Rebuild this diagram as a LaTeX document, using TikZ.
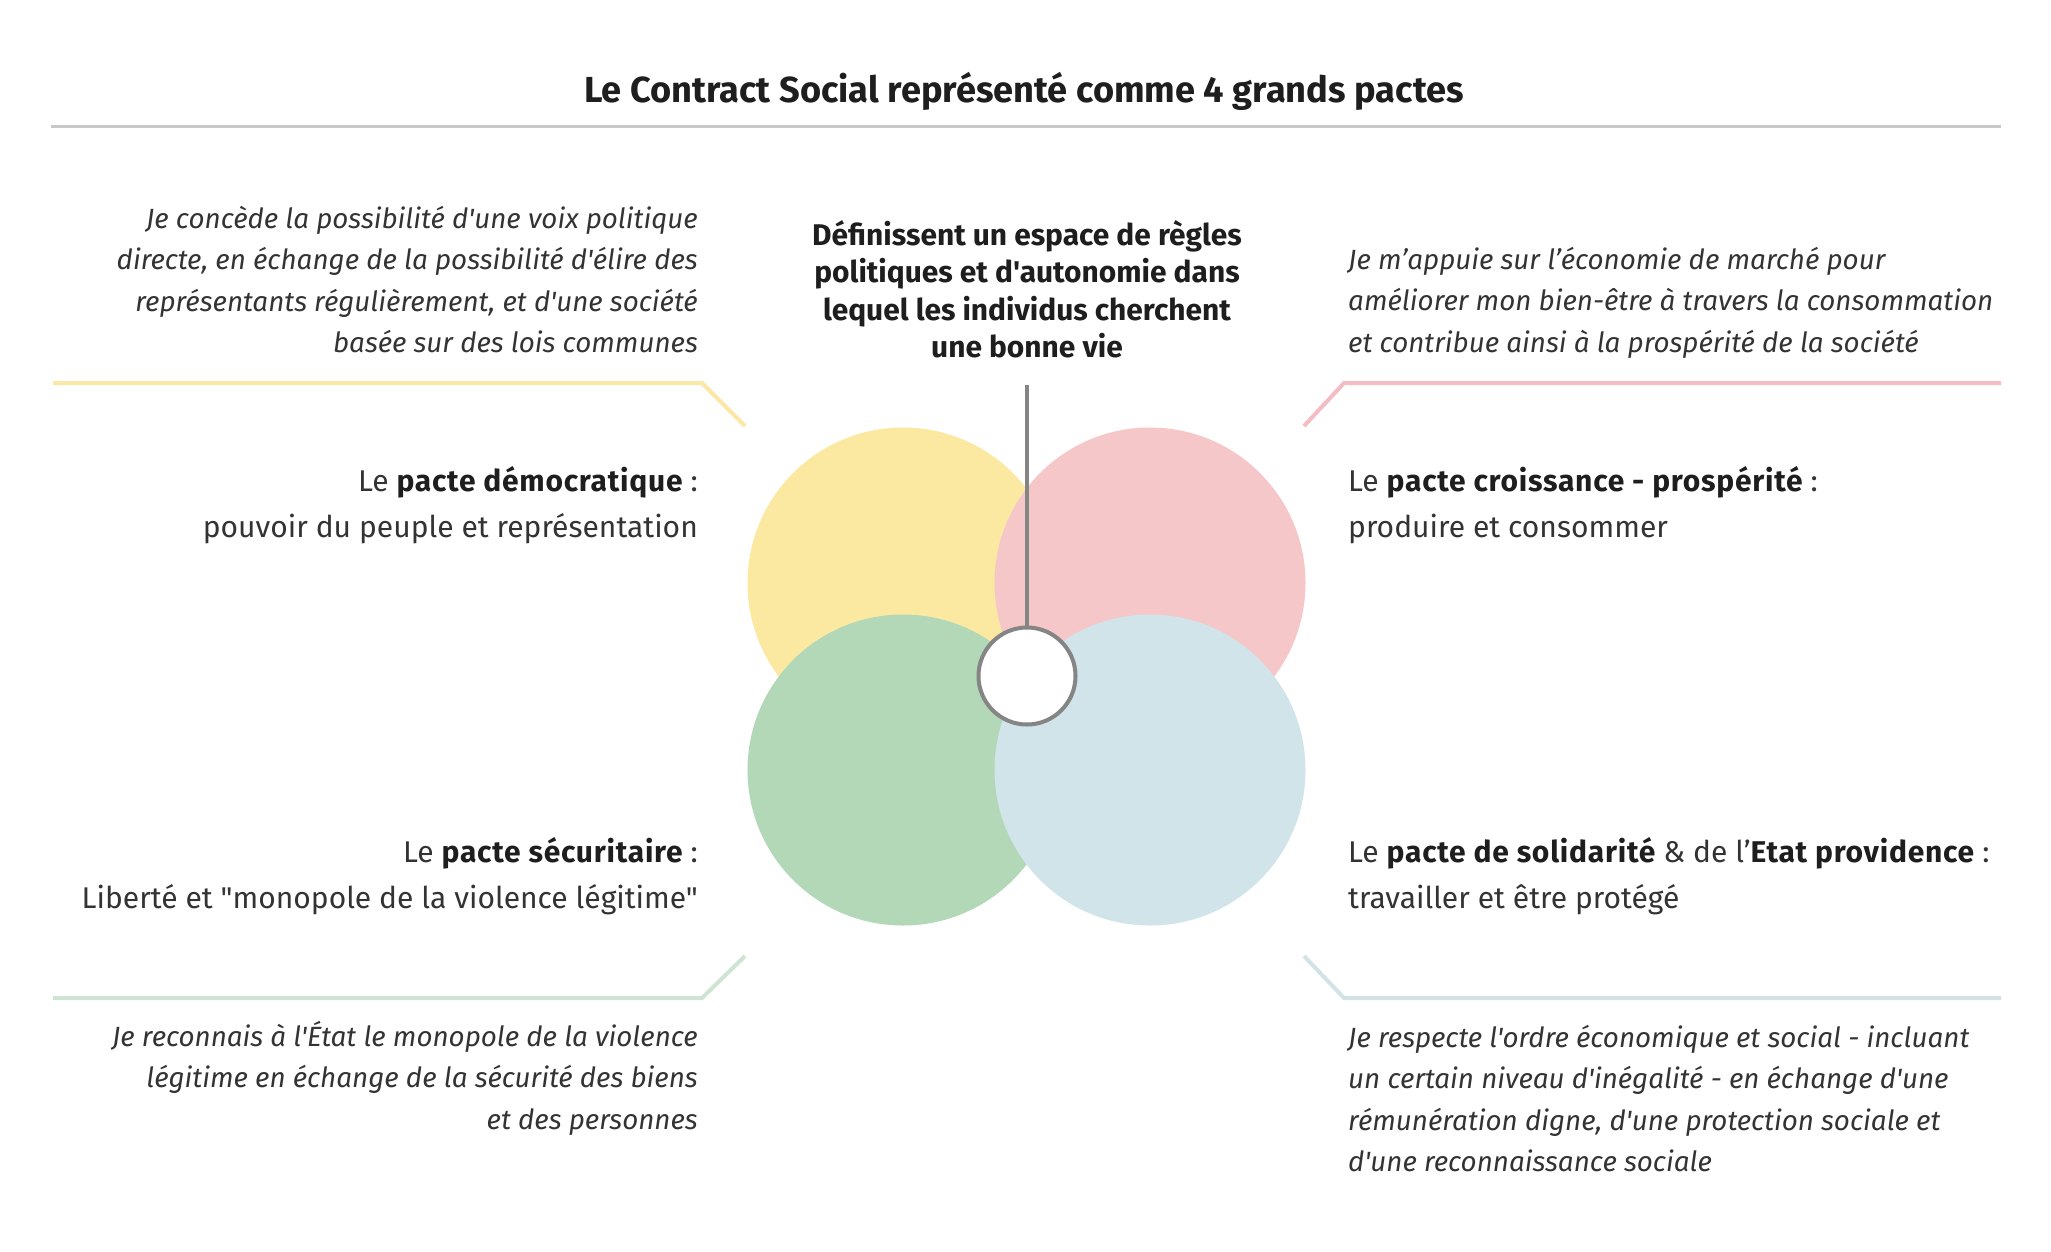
\documentclass[tikz,border=0pt]{standalone}
\usepackage{fontspec}
\newfontfamily\fira{Fira Sans}
\definecolor{cyellow}{HTML}{FBE9A2}
\definecolor{cpink}{HTML}{F6C7C8}
\definecolor{cgreen}{HTML}{B2D8B8}
\definecolor{cblue}{HTML}{D0E4EA}
\definecolor{lyellow}{HTML}{FCE8A6}
\definecolor{lpink}{HTML}{F5BCC3}
\definecolor{lgreen}{HTML}{D0E4D3}
\definecolor{lblue}{HTML}{D2E2E6}
\definecolor{rulegray}{HTML}{C8C8C8}
\definecolor{stemgray}{HTML}{858585}
\definecolor{txtdark}{HTML}{1E1E1E}
\definecolor{txtmid}{HTML}{333333}
\tikzset{
  italictext/.style={font=\fira\itshape\fontsize{27.8}{41.5}\selectfont, text=txtmid, inner sep=0pt},
  pactetext/.style={font=\fira\fontsize{30}{46}\selectfont, text=txtmid, inner sep=0pt},
  centretext/.style={font=\fira\bfseries\fontsize{29.9}{37.5}\selectfont, text=txtdark, inner sep=0pt, align=center},
  titletext/.style={font=\fira\bfseries\fontsize{36.2}{40}\selectfont, text=txtdark, inner sep=0pt},
  blob/.style={circle, inner sep=0pt, minimum size=311pt},
  sepline/.style={line width=4pt, line join=miter},
}
\newcommand{\bd}[1]{{\bfseries\addfontfeature{LetterSpace=2.5}\color{txtdark}#1}}
\begin{document}
\begin{tikzpicture}[x=1pt,y=-1pt]
\useasboundingbox (0,0) rectangle (2051,1251);
\fill[white] (0,0) rectangle (2051,1251);

% title
\node[titletext, anchor=base] (title) at (1024,102) {Le Contract Social représenté comme 4 grands pactes};
\coordinate (ruleL) at (51,126);
\coordinate (ruleR) at (2001,126);
\draw[rulegray, line width=3pt] (ruleL) -- (ruleR);

% circles
\node[blob, fill=cyellow] (dem) at (903,583) {};
\node[blob, fill=cpink] (cro) at (1150,583) {};
\node[blob, fill=cgreen] (sec) at (903,770) {};
\node[blob, fill=cblue] (sol) at (1150,770) {};

% centre text, stem and core
\node[centretext, anchor=north] (centre) at (1027,219) {\strut Définissent un espace de règles\\\strut politiques et d'autonomie dans\\\strut lequel les individus cherchent\\\strut une bonne vie};
\coordinate (stem) at (1027,385);
\node[circle, draw=stemgray, line width=4pt, fill=white, inner sep=0pt, minimum size=97pt] (core) at (1027,676) {};
\draw[stemgray, line width=4pt] (stem) -- (core.north);

% top-left
\node[italictext, align=right, anchor=north east] (ditl) at (698,199) {\strut Je concède la possibilité d'une voix politique\\\strut directe, en échange de la possibilité d'élire des\\\strut représentants régulièrement, et d'une société\\\strut basée sur des lois communes};
\coordinate (yA) at (53,383);
\coordinate (yB) at (702,383);
\coordinate (yC) at (745,426);
\draw[sepline, lyellow] (yA) -- (yB) -- (yC);
\node[pactetext, align=right, anchor=north east] (ptl) at (698,459) {\strut Le \bd{pacte démocratique} :\\\strut pouvoir du peuple et représentation};

% top-right
\node[italictext, align=left, anchor=north west] (ditr) at (1348,240) {\strut Je m’appuie sur l’économie de marché pour\\\strut améliorer mon bien-être à travers la consommation\\\strut et contribue ainsi à la prospérité de la société};
\coordinate (pA) at (1304,426);
\coordinate (pB) at (1344,383);
\coordinate (pC) at (2001,383);
\draw[sepline, lpink] (pA) -- (pB) -- (pC);
\node[pactetext, align=left, anchor=north west] (ptr) at (1348,459) {\strut Le \bd{pacte croissance - prospérité} :\\\strut produire et consommer};

% bottom-left
\node[pactetext, align=right, anchor=north east] (pbl) at (698,830) {\strut Le \bd{pacte sécuritaire} :\\\strut Liberté et "monopole de la violence légitime"};
\coordinate (gA) at (745,956);
\coordinate (gB) at (702,998);
\coordinate (gC) at (53,998);
\draw[sepline, lgreen] (gA) -- (gB) -- (gC);
\node[italictext, align=right, anchor=north east] (dibl) at (698,1017) {\strut Je reconnais à l'État le monopole de la violence\\\strut légitime en échange de la sécurité des biens\\\strut et des personnes};

% bottom-right
\node[pactetext, align=left, anchor=north west] (pbr) at (1348,830) {\strut Le \bd{pacte de solidarité} \& de l’\bd{Etat providence} :\\\strut travailler et être protégé};
\coordinate (bA) at (1304,956);
\coordinate (bB) at (1344,998);
\coordinate (bC) at (2001,998);
\draw[sepline, lblue] (bA) -- (bB) -- (bC);
\node[italictext, align=left, anchor=north west] (dibr) at (1348,1018) {\strut Je respecte l'ordre économique et social - incluant\\\strut un certain niveau d'inégalité - en échange d'une\\\strut rémunération digne, d'une protection sociale et\\\strut d'une reconnaissance sociale};
\end{tikzpicture}
\end{document}
